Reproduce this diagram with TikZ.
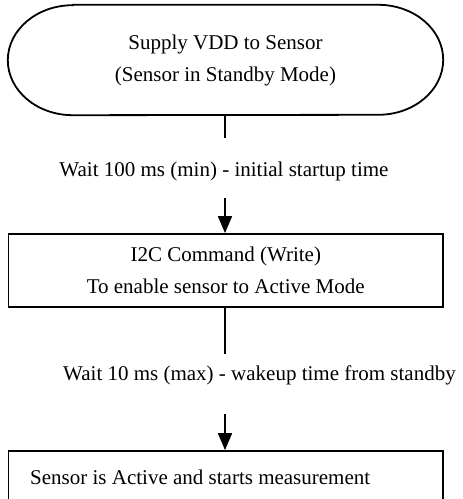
\documentclass[tikz,border=0pt]{standalone}
\usepackage{fontspec}
\setmainfont{Liberation Serif}
\usetikzlibrary{arrows.meta}
\begin{document}
\begin{tikzpicture}[x=1pt,y=1pt,
  edge/.style={line width=1.8pt, black},
  arrowedge/.style={edge, -{Triangle[length=17pt,width=14pt]}},
  boxnode/.style={draw, line width=1.8pt, minimum width=434.5pt, inner sep=0pt},
  txt/.style={font=\fontsize{21}{32}\selectfont, align=center, inner sep=0pt},
  label/.style={font=\fontsize{21}{25}\selectfont, inner sep=0pt}]
\useasboundingbox (0,0) rectangle (463,499);
\clip (0,0) rectangle (463,499);
% start terminal
\node[txt, minimum width=435pt, minimum height=110pt] (start) at (225.5,439) {Supply VDD to Sensor\\(Sensor in Standby Mode)};
\draw[edge] ([xshift=65pt]start.north west) -- ([xshift=-65pt]start.north east)
  arc[start angle=90, end angle=-90, x radius=65pt, y radius=55pt]
  -- ([xshift=65pt]start.south west)
  arc[start angle=270, end angle=90, x radius=65pt, y radius=55pt] -- cycle;
\coordinate (c1) at (225,361);
\draw[edge] (start.south -| c1) -- (c1);
\node[label] (wait1) at (224,328) {Wait 100 ms (min) - initial startup time};
\coordinate (c2) at (225,301);
% box 1
\node[boxnode, txt, minimum height=73pt] (cmd) at (225.75,228.5) {I2C Command (Write)\\To enable sensor to Active Mode};
\draw[arrowedge] (c2) -- (cmd.north -| c2);
\coordinate (c3) at (225,145);
\draw[edge] (cmd.south -| c3) -- (c3);
\node[label, anchor=west] (wait2) at (63,124) {Wait 10 ms (max) - wakeup time from standby};
\coordinate (c4) at (225,85);
% box 3
\node[boxnode, minimum height=78pt] (active) at (225.75,9) {};
\draw[arrowedge] (c4) -- (active.north -| c4);
\node[label, anchor=west] (activetext) at (30,22) {Sensor is Active and starts measurement};
\end{tikzpicture}
\end{document}
